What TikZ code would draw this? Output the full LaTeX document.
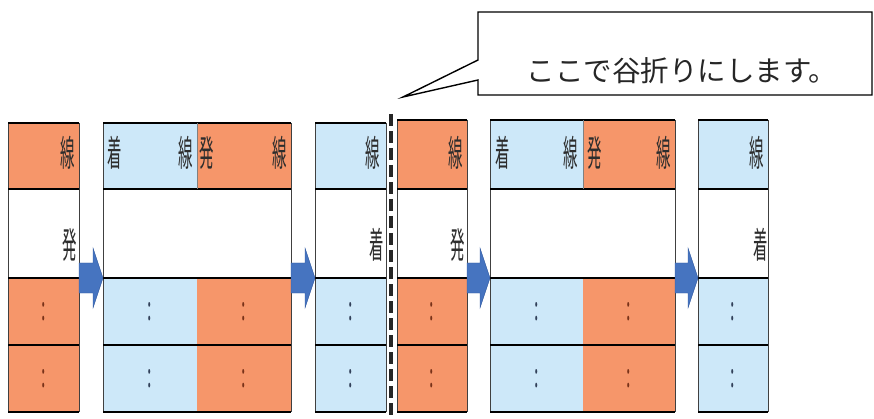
\documentclass[tikz,border=0pt]{standalone}
\usepackage{graphicx}
\usepackage{fontspec}
\newfontfamily\cjk{Noto Sans CJK JP}
\usetikzlibrary{calc}
\definecolor{org}{RGB}{246,150,106}
\definecolor{lblue}{RGB}{205,232,249}
\definecolor{arr}{RGB}{70,116,192}
\definecolor{arrdark}{RGB}{50,90,160}
\definecolor{txtdark}{RGB}{45,45,45}
\definecolor{dotorg}{RGB}{120,50,25}
\definecolor{dotblue}{RGB}{50,65,90}
\newcommand\tallch[1]{\scalebox{0.9}[2.25]{#1}}
\tikzset{
  cellbox/.style={draw=none, anchor=north west, inner sep=0pt, outer sep=0pt},
  glyph/.style={font=\cjk\fontsize{16}{16}\selectfont, inner sep=0pt, text=txtdark},
  dotmark/.style={font=\cjk\fontsize{20}{20}\selectfont, inner sep=0pt},
  rule/.style={line width=2.2pt, black},
  side/.style={line width=0.8pt, black!75},
  divider/.style={line width=0.6pt, gray},
  arrowfill/.style={fill=arr, draw=arrdark, line width=0.4pt},
  fold/.style={line width=3.2pt, black!85, dash pattern=on 12pt off 5pt},
  callout/.style={draw=black, line width=1.4pt, fill=white, line join=miter},
}
\begin{document}
\begin{tikzpicture}[x=1pt, y=-1pt]
\useasboundingbox (0,0) rectangle (874,419);
% columns: name/left/width/top/header colour/row colour/dot colour
\foreach \n/\l/\w/\t/\hc/\rc/\dc in {
  a/8/71/123/org/org/dotorg,
  b/103/94/123/lblue/lblue/dotblue,
  c/197/94/123/org/org/dotorg,
  d/315/71/123/lblue/lblue/dotblue,
  e/397/70/120/org/org/dotorg,
  f/490/93/120/lblue/lblue/dotblue,
  g/583/92/120/org/org/dotorg,
  h/698/70/120/lblue/lblue/dotblue}{
  \pgfmathsetmacro\hh{189-\t}
  \node[cellbox, fill=\hc, minimum width=\w pt, minimum height=\hh pt] (\n0) at (\l,\t) {};
  \node[cellbox, fill=white, minimum width=\w pt, minimum height=89pt] (\n1) at (\l,189) {};
  \node[cellbox, fill=\rc, minimum width=\w pt, minimum height=67pt] (\n2) at (\l,278) {};
  \node[cellbox, fill=\rc, minimum width=\w pt, minimum height=67pt] (\n3) at (\l,345) {};
  \node[dotmark, text=\dc] (\n2dots) at (\n2.center) {\scalebox{0.8}[1.7]{:}};
  \node[dotmark, text=\dc] (\n3dots) at (\n3.center) {\scalebox{0.8}[1.7]{:}};
}
% panel frames: pairs of first/last column
\foreach \p/\q in {a/a, b/c, d/d, e/e, f/g, h/h}{
  \draw[side] (\p0.north west) -- (\p3.south west);
  \draw[side] (\q0.north east) -- (\q3.south east);
  \draw[rule] (\p0.north west) -- (\q0.north east);
  \draw[rule] (\p1.north west) -- (\q1.north east);
  \draw[rule] (\p2.north west) -- (\q2.north east);
  \draw[rule] (\p3.north west) -- (\q3.north east);
  \draw[rule] (\p3.south west) -- (\q3.south east);
}
\draw[divider] (c0.north west) -- (c0.south west);
\draw[divider] (g0.north west) -- (g0.south west);
% header texts
\node[glyph] (ta1) at (68,153) {\tallch{線}};
\node[glyph] (tb1) at (115,153) {\tallch{着}};
\node[glyph] (tb2) at (186,153) {\tallch{線}};
\node[glyph] (tc1) at (207,153) {\tallch{発}};
\node[glyph] (tc2) at (280,153) {\tallch{線}};
\node[glyph] (td1) at (373,153) {\tallch{線}};
\node[glyph] (te1) at (456,153) {\tallch{線}};
\node[glyph] (tf1) at (503,153) {\tallch{着}};
\node[glyph] (tf2) at (571,153) {\tallch{線}};
\node[glyph] (tg1) at (595,153) {\tallch{発}};
\node[glyph] (tg2) at (664,153) {\tallch{線}};
\node[glyph] (th1) at (757,153) {\tallch{線}};
% middle texts
\node[glyph] (ma) at (70,245) {\tallch{発}};
\node[glyph] (md) at (377,245) {\tallch{着}};
\node[glyph] (me) at (458,245) {\tallch{発}};
\node[glyph] (mh) at (761,245) {\tallch{着}};
% block arrows
\newcommand\blockarrow[2]{%
  \path[arrowfill] let \p1=(#1), \p2=(#2) in
    (\x1,\y1+15pt) -- (\x2-10pt,\y1+15pt) -- (\x2-10pt,\y1+30pt) -- (\x2,\y1)
    -- (\x2-10pt,\y1-30pt) -- (\x2-10pt,\y1-15pt) -- (\x1,\y1-15pt) -- cycle;}
\blockarrow{c2.north east}{d2.north west}
\blockarrow{a2.north east}{b2.north west}
\blockarrow{e2.north east}{f2.north west}
\blockarrow{g2.north east}{h2.north west}
% fold line
\coordinate (foldtop) at (391,114);
\coordinate (foldbot) at (391,419);
\draw[fold] (foldtop) -- (foldbot);
% callout
\coordinate (tip) at (403,97);
\coordinate (cnw) at (478,12);
\coordinate (cse) at (872,95);
\draw[callout] (cnw) -- (cse |- cnw) -- (cse) -- (cnw |- cse) -- (478,80) -- (tip) -- (478,60) -- cycle;
\node[font=\cjk\fontsize{28.5}{28.5}\selectfont, inner sep=0pt, text=black!85] (calltext) at (682,71) {ここで谷折りにします。};
\end{tikzpicture}
\end{document}
